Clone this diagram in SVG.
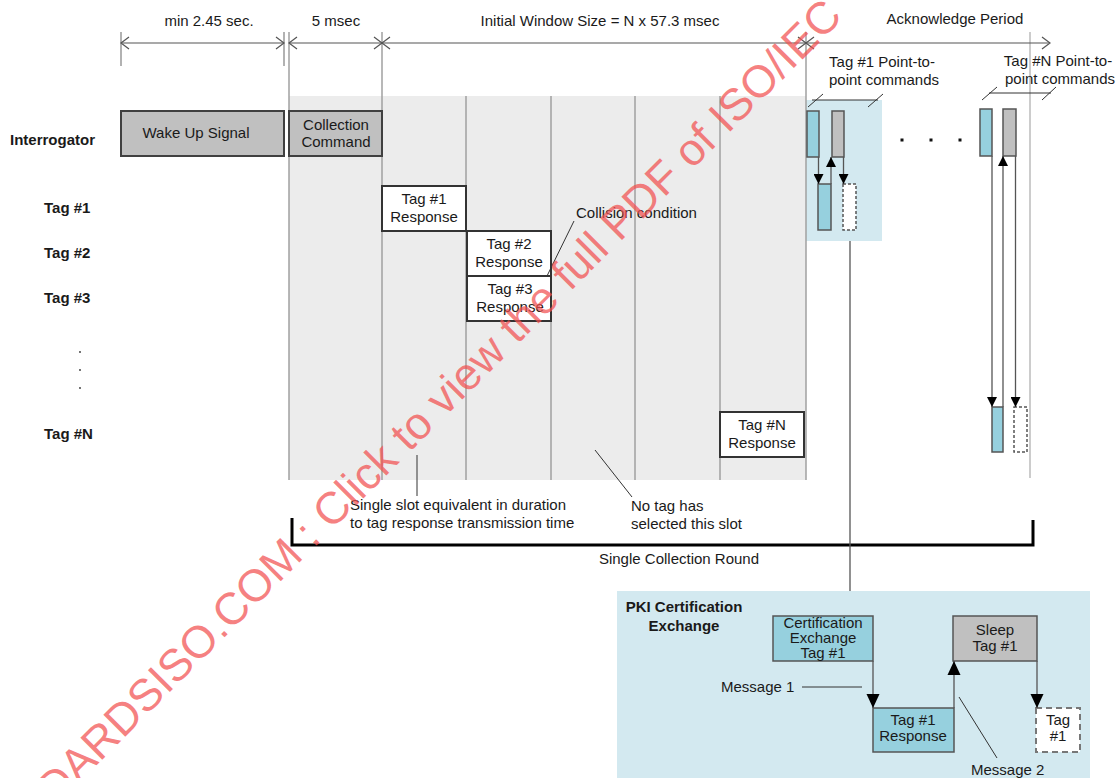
<svg xmlns="http://www.w3.org/2000/svg" width="1120" height="778" viewBox="0 0 1120 778">
<style>
text{font-family:"Liberation Sans",Arial,sans-serif;font-size:15px;fill:#1a1a1a}
.b{font-weight:bold}
.m{text-anchor:middle}
.dim{stroke:#555;stroke-width:1.2;fill:none}
.tick{stroke:#999;stroke-width:1.5;fill:none}
.slot{stroke:#a0a0a0;stroke-width:1.5}
.gbox{fill:#c0c0c0;stroke:#404040;stroke-width:2}
.wbox{fill:#fff;stroke:#333;stroke-width:2}
.sb{fill:#96d0de;stroke:#555;stroke-width:1.5}
.sg{fill:#c0c0c0;stroke:#555;stroke-width:1.5}
.sd{fill:#fff;stroke:#555;stroke-width:1.5;stroke-dasharray:3 2}
.ln{stroke:#555;stroke-width:1.3;fill:none}
.lead{stroke:#333;stroke-width:1;fill:none}
.wm{font-size:45px;fill:#f25050;fill-opacity:0.72}
</style>
<defs>
<marker id="ah" markerUnits="userSpaceOnUse" markerWidth="10" markerHeight="10" refX="10" refY="5" orient="auto"><path d="M0,0 L10,5 L0,10 Z" fill="#000"/></marker>
<marker id="ahL" markerUnits="userSpaceOnUse" markerWidth="14" markerHeight="14" refX="14" refY="7" orient="auto"><path d="M0,0.5 L14,7 L0,13.5 Z" fill="#000"/></marker>
</defs>

<!-- background shading -->
<rect x="289" y="96" width="517" height="384" fill="#ececec"/>
<rect x="806" y="100" width="76" height="141" fill="#d3e9f0"/>
<rect x="617" y="591" width="473" height="190" fill="#d3e9f0"/>

<!-- dimension lines -->
<g id="dimensions">
<line class="tick" x1="121" y1="32" x2="121" y2="66"/>
<line class="tick" x1="284" y1="32" x2="284" y2="66"/>
<line class="slot" x1="289" y1="32" x2="289" y2="480"/>
<line class="slot" x1="382" y1="32" x2="382" y2="480"/>
<line class="slot" x1="806" y1="32" x2="806" y2="480"/>
<line x1="1030" y1="32" x2="1030" y2="478" stroke="#bbb" stroke-width="1.5"/>
<line class="dim" x1="121" y1="43" x2="284" y2="43"/>
<line class="dim" x1="289" y1="43" x2="382" y2="43"/>
<line class="dim" x1="382" y1="43" x2="806" y2="43"/>
<line class="dim" x1="806" y1="43" x2="1050" y2="43"/>
<path class="dim" d="M129,37 L121,43 L129,49 M276,37 L284,43 L276,49 M297,37 L289,43 L297,49 M374,37 L382,43 L374,49 M390,37 L382,43 L390,49 M798,37 L806,43 L798,49 M814,37 L806,43 L814,49 M1042,37 L1050,43 L1042,49"/>
<text class="m" x="209" y="26">min 2.45 sec.</text>
<text class="m" x="336" y="26">5 msec</text>
<text class="m" x="600" y="26">Initial Window Size = N x 57.3 msec</text>
<text class="m" x="955" y="24">Acknowledge Period</text>
</g>

<!-- slot separators -->
<g id="slots">
<line class="slot" x1="466" y1="96" x2="466" y2="480"/>
<line class="slot" x1="551" y1="96" x2="551" y2="480"/>
<line class="slot" x1="635" y1="96" x2="635" y2="480"/>
<line class="slot" x1="720" y1="96" x2="720" y2="480"/>
</g>

<!-- row labels -->
<g id="labels">
<text class="b" x="10" y="145">Interrogator</text>
<text class="b" x="44" y="213">Tag #1</text>
<text class="b" x="44" y="258">Tag #2</text>
<text class="b" x="44" y="303">Tag #3</text>
<circle cx="80" cy="352" r="0.9" fill="#333"/>
<circle cx="80" cy="370" r="0.9" fill="#333"/>
<circle cx="80" cy="388" r="0.9" fill="#333"/>
<text class="b" x="44" y="439">Tag #N</text>
</g>

<g id="wakeup"><rect class="gbox" x="121" y="111" width="163" height="45"/><text class="m" x="196" y="138">Wake Up Signal</text></g>
<g id="collection"><rect class="gbox" x="289" y="111" width="93" height="45"/><text class="m" x="336" y="130">Collection</text><text class="m" x="336" y="147">Command</text></g>
<g id="tag1resp"><rect class="wbox" x="382" y="186" width="84" height="45"/><text class="m" x="424" y="204">Tag #1</text><text class="m" x="424" y="222">Response</text></g>
<g id="tag2resp"><rect class="wbox" x="467" y="231" width="84" height="45"/><text class="m" x="509" y="249">Tag #2</text><text class="m" x="509" y="267">Response</text></g>
<g id="tag3resp"><rect class="wbox" x="467" y="276" width="84" height="45"/><text class="m" x="510" y="294">Tag #3</text><text class="m" x="510" y="312">Response</text></g>
<g id="tagNresp"><rect class="wbox" x="720" y="412" width="84" height="45"/><text class="m" x="762" y="430">Tag #N</text><text class="m" x="762" y="448">Response</text></g>

<!-- annotations -->
<g id="annotations">
<text x="576" y="218">Collision condition</text>
<line class="lead" x1="574" y1="221" x2="547" y2="276"/>
<line class="lead" x1="417" y1="455" x2="417" y2="496"/>
<text x="350" y="510">Single slot equivalent in duration</text>
<text x="350" y="528">to tag response transmission time</text>
<line class="lead" x1="595" y1="450" x2="632" y2="497"/>
<text x="631" y="511">No tag has</text>
<text x="631" y="529">selected this slot</text>
<path d="M292,518 L292,545 L1033,545 L1033,520" fill="none" stroke="#000" stroke-width="3"/>
<text class="m" x="679" y="564">Single Collection Round</text>
</g>

<!-- acknowledge period -->
<g id="tag1p2p">
<text class="m" x="882" y="67">Tag #1 Point-to-</text>
<text class="m" x="884" y="85">point commands</text>
<path class="lead" d="M808,107 L823,94 M812,100 L878,100 M868,107 L883,94"/>
<rect class="sb" x="807" y="111" width="12" height="46"/>
<rect class="sg" x="832" y="111" width="12" height="46"/>
<rect class="sb" x="818" y="184" width="13" height="46"/>
<rect class="sd" x="843" y="184" width="13" height="46"/>
</g>
<g id="dots">
<rect x="900.5" y="138.5" width="3" height="3" fill="#111"/>
<rect x="929.5" y="138.5" width="3" height="3" fill="#111"/>
<rect x="958.5" y="138.5" width="3" height="3" fill="#111"/>
</g>
<g id="tagNp2p">
<text class="m" x="1058" y="66">Tag #N Point-to-</text>
<text class="m" x="1060" y="84">point commands</text>
<path class="lead" d="M982,100 L997,87 M989,93 L1051,93 M1042,100 L1056,87"/>
<rect class="sb" x="980" y="109" width="12" height="47"/>
<rect class="sg" x="1003" y="109" width="13" height="47"/>
<rect class="sb" x="992" y="407" width="11" height="45"/>
<rect class="sd" x="1014" y="407" width="13" height="45"/>
</g>

<!-- PKI -->
<g id="pki">
<text class="b m" x="684" y="612">PKI Certification</text>
<text class="b m" x="684" y="631">Exchange</text>
</g>
<g id="certex"><rect class="sb" x="773" y="616" width="100" height="45" stroke="#555" stroke-width="2"/><text class="m" x="823" y="628">Certification</text><text class="m" x="823" y="643">Exchange</text><text class="m" x="823" y="658">Tag #1</text></g>
<g id="sleep"><rect class="sg" x="953" y="616" width="84" height="45" stroke-width="2"/><text class="m" x="995" y="635">Sleep</text><text class="m" x="995" y="651">Tag #1</text></g>
<g id="pkiresp"><rect class="sb" x="873" y="708" width="81" height="44" stroke-width="2"/><text class="m" x="913" y="725">Tag #1</text><text class="m" x="913" y="741">Response</text></g>
<g id="pkitag"><rect x="1036" y="708" width="44" height="44" fill="#fff" stroke="#777" stroke-width="2" stroke-dasharray="6 4"/><text class="m" x="1058" y="725">Tag</text><text class="m" x="1058" y="741">#1</text></g>
<g id="messages">
<text x="721" y="692">Message 1</text>
<line class="lead" x1="802" y1="687" x2="862" y2="687"/>
<text x="971" y="775">Message 2</text>
<line class="lead" x1="959" y1="697" x2="997" y2="758"/>
</g>

<!-- connectors -->
<g id="connectors">
<line class="ln" x1="818.5" y1="157" x2="818.5" y2="184" marker-end="url(#ah)"/>
<line class="ln" x1="831" y1="184" x2="831" y2="157" marker-end="url(#ah)"/>
<line class="ln" x1="843.5" y1="157" x2="843.5" y2="184" marker-end="url(#ah)"/>
<line class="ln" x1="992" y1="156" x2="992" y2="407" marker-end="url(#ah)"/>
<line class="ln" x1="1003" y1="407" x2="1003" y2="156" marker-end="url(#ah)"/>
<line class="ln" x1="1015.5" y1="156" x2="1015.5" y2="407" marker-end="url(#ah)"/>
<line class="ln" x1="850" y1="241" x2="850" y2="591"/>
<line class="ln" x1="873" y1="661" x2="873" y2="708" marker-end="url(#ahL)"/>
<line class="ln" x1="954" y1="708" x2="954" y2="661" marker-end="url(#ahL)"/>
<line class="ln" x1="1037" y1="661" x2="1037" y2="708" marker-end="url(#ahL)"/>
</g>

<!-- watermark -->
<text class="wm" transform="translate(-27,889) rotate(-45)">STANDARDSISO.COM : Click to view the full PDF of ISO/IEC</text>
</svg>
